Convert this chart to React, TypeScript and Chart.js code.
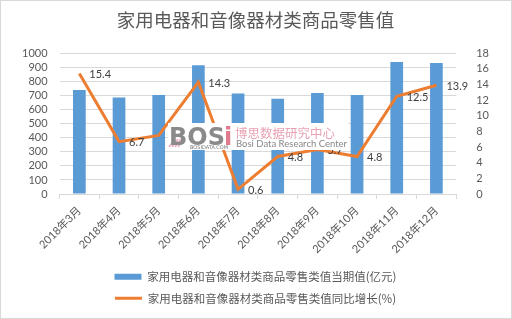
import React, { useEffect, useRef } from "react";
import { Chart, registerables } from "chart.js";

Chart.register(...registerables);

const TITLE = "家用电器和音像器材类商品零售值";
const categories = ["2018年3月", "2018年4月", "2018年5月", "2018年6月", "2018年7月", "2018年8月", "2018年9月", "2018年10月", "2018年11月", "2018年12月"];
const barLabel = "家用电器和音像器材类商品零售类值当期值(亿元)";
const lineLabel = "家用电器和音像器材类商品零售类值同比增长(%)";
const currentValues = [739, 685, 704, 915, 713, 676, 718, 704, 937, 930];
const growthValues = [15.4, 6.7, 7.5, 14.3, 0.6, 4.8, 5.7, 4.8, 12.5, 13.9];
const growthLabels = ["15.4", "6.7", "7.5", "14.3", "0.6", "4.8", "5.7", "4.8", "12.5", "13.9"];

const BLUE = "#5B9BD5";
const ORANGE = "#ED7D31";
const TEXT = "#595959";
const GRID = "#d9d9d9";
const NUMFONT = "Lato, 'Noto Sans CJK SC', sans-serif";
const CJKFONT = "'Noto Sans CJK SC', sans-serif";

const labelPlugin = {
  id: "pointLabels",
  afterDatasetsDraw(chart: any) {
    const meta = chart.getDatasetMeta(1);
    const ctx = chart.ctx;
    ctx.save();
    ctx.font = `11px ${NUMFONT}`;
    ctx.fillStyle = "#404040";
    ctx.textAlign = "left";
    ctx.textBaseline = "middle";
    meta.data.forEach((pt: any, i: number) => {
      ctx.fillText(growthLabels[i], pt.x + 10, pt.y + 1);
    });
    ctx.restore();
  },
};

const decorPlugin = {
  id: "decor",
  afterDraw(chart: any) {
    const ctx = chart.ctx;
    const W = chart.width;
    const H = chart.height;
    ctx.save();
    ctx.strokeStyle = GRID;
    ctx.lineWidth = 1;
    ctx.strokeRect(0.5, 0.5, W - 1, H - 1);
    const wx = 168;
    const wy = 123;
    ctx.fillStyle = "#ffffff";
    ctx.fillRect(wx, wy, 180, 27);
    ctx.strokeStyle = "rgba(230,150,170,0.8)";
    ctx.lineWidth = 1.5;
    for (let k = 0; k < 4; k++) {
      ctx.beginPath();
      ctx.moveTo(wx + 1 + k * 3, wy + 24);
      ctx.lineTo(wx + 7 + k * 3, wy + 16);
      ctx.stroke();
    }
    ctx.font = `bold 24px 'DejaVu Sans', sans-serif`;
    ctx.textBaseline = "alphabetic";
    ctx.textAlign = "left";
    ctx.fillStyle = "#8a8a8a";
    ctx.fillText("BOS", wx + 1, wy + 22);
    ctx.fillStyle = "#e07a8c";
    ctx.fillText("i", wx + 56, wy + 22);
    ctx.font = `5px 'DejaVu Sans', sans-serif`;
    ctx.fillStyle = "#777";
    ctx.fillText("BOSIDATA.COM", wx + 22, wy + 26);
    ctx.font = `12.5px ${CJKFONT}`;
    ctx.fillStyle = "#e8a3b3";
    ctx.textBaseline = "middle";
    ctx.fillText("博思数据研究中心", wx + 67, wy + 10);
    ctx.font = `9.5px ${NUMFONT}`;
    ctx.fillStyle = "#888";
    ctx.fillText("Bosi Data Research Center", wx + 68, wy + 21);
    ctx.restore();
  },
};

export default function App() {
  const ref = useRef<HTMLCanvasElement | null>(null);
  useEffect(() => {
    if (!ref.current) return;
    const chart = new Chart(ref.current, {
      type: "bar",
      data: {
        labels: categories,
        datasets: [
          {
            type: "bar",
            label: barLabel,
            data: currentValues,
            backgroundColor: BLUE,
            borderWidth: 0,
            categoryPercentage: 0.8,
            barPercentage: 0.4,
            yAxisID: "y",
            order: 1,
          },
          {
            type: "line",
            label: lineLabel,
            data: growthValues,
            borderColor: ORANGE,
            backgroundColor: ORANGE,
            borderWidth: 3,
            pointRadius: 0,
            tension: 0,
            yAxisID: "y1",
            order: 0,
          },
        ],
      } as any,
      options: {
        responsive: false,
        animation: false,
        layout: { padding: { left: 10, right: 11, top: 0, bottom: 5 } },
        plugins: {
          title: {
            display: true,
            text: TITLE,
            color: TEXT,
            font: { family: CJKFONT, size: 18.5, weight: "normal" },
            padding: { top: 9, bottom: 22 },
          },
          legend: {
            display: true,
            position: "bottom",
            labels: {
              color: TEXT,
              font: { family: CJKFONT, size: 11.5 },
              usePointStyle: true,
              pointStyleWidth: 27,
              boxHeight: 6,
              padding: 10,
              generateLabels: () => [
                {
                  text: barLabel,
                  fillStyle: BLUE,
                  strokeStyle: BLUE,
                  lineWidth: 0,
                  pointStyle: "rect",
                  datasetIndex: 0,
                  fontColor: TEXT,
                },
                {
                  text: lineLabel,
                  fillStyle: ORANGE,
                  strokeStyle: ORANGE,
                  lineWidth: 3,
                  pointStyle: "line",
                  datasetIndex: 1,
                  fontColor: TEXT,
                },
              ],
            },
          },
          tooltip: { enabled: false },
        },
        scales: {
          x: {
            grid: { display: true, drawOnChartArea: false, color: GRID, tickLength: 5, offset: true },
            border: { color: GRID },
            ticks: {
              color: TEXT,
              font: { family: NUMFONT, size: 11 },
              minRotation: 45,
              maxRotation: 45,
              autoSkip: false,
              padding: 5,
            },
          },
          y: {
            position: "left",
            min: 0,
            max: 1000,
            grid: { color: GRID, drawTicks: false },
            border: { display: false },
            ticks: {
              stepSize: 100,
              autoSkip: false,
              color: TEXT,
              font: { family: NUMFONT, size: 11 },
              padding: 12,
              callback: (v: any) => String(v),
            },
          },
          y1: {
            position: "right",
            min: 0,
            max: 18,
            grid: { display: false, drawOnChartArea: false },
            border: { display: false },
            ticks: {
              stepSize: 2,
              autoSkip: false,
              color: TEXT,
              font: { family: NUMFONT, size: 11 },
              padding: 12,
              callback: (v: any) => String(v),
            },
          },
        },
      } as any,
      plugins: [labelPlugin, decorPlugin],
    });
    return () => chart.destroy();
  }, []);
  return (
    <div style={{ position: "absolute", left: 0, top: 0, width: 512, height: 319, background: "#fff" }}>
      <canvas ref={ref} width={512} height={319} />
    </div>
  );
}
